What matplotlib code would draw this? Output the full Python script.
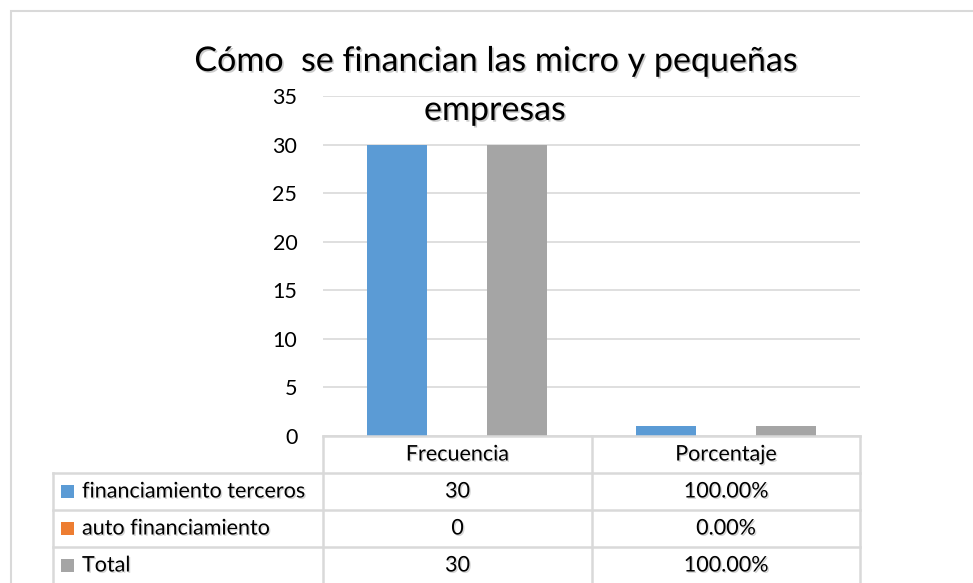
import matplotlib
matplotlib.use("Agg")
import matplotlib.pyplot as plt
import matplotlib.patheffects as pe
from matplotlib.patches import Rectangle
from matplotlib.lines import Line2D
import numpy as np

plt.rcParams['font.family'] = ['Lato', 'DejaVu Sans']

title_lines = ["Cómo  se financian las micro y pequeñas", "empresas"]
categories = ["Frecuencia", "Porcentaje"]
series_names = ["financiamiento terceros", "auto financiamiento", "Total"]
series_values = {
    "financiamiento terceros": [30, 1.0],
    "auto financiamiento": [0, 0.0],
    "Total": [30, 1.0],
}
table_text = {
    "financiamiento terceros": ["30", "100.00%"],
    "auto financiamiento": ["0", "0.00%"],
    "Total": ["30", "100.00%"],
}
colors = ["#5b9bd5", "#ed7d31", "#a5a5a5"]
yticks = [0, 5, 10, 15, 20, 25, 30, 35]

W, H = 973, 583
fig = plt.figure(figsize=(W / 100, H / 100), dpi=100)

def fx(px):
    return px / W

def fy(py):
    return 1 - py / H

grid_col = "#d9d9d9"

# outer chart border
fig.add_artist(Rectangle((fx(11), fy(600)), fx(1000) - fx(11), fy(11) - fy(600),
                         transform=fig.transFigure, fill=False, edgecolor=grid_col, lw=1.5))

# plot area
x_left, x_right, y_top, y_bot = 323, 860, 96, 436
ax = fig.add_axes([fx(x_left), fy(y_bot), fx(x_right) - fx(x_left), fy(y_top) - fy(y_bot)])
ax.set_ylim(0, 35)
ax.set_xlim(-0.5, len(categories) - 0.5)
ax.set_yticks(yticks)
ax.set_yticklabels([str(t) for t in yticks], fontsize=15.5)
ax.tick_params(axis='y', length=0, pad=18.5)
ax.set_xticks([])
for s in ax.spines.values():
    s.set_visible(False)
ax.yaxis.grid(True, color=grid_col, lw=1.2)
ax.set_axisbelow(True)

bw = 0.223
x = np.arange(len(categories))
for i, name in enumerate(series_names):
    ax.bar(x + (i - 1) * bw, series_values[name], width=bw, color=colors[i], zorder=3)

shadow = [pe.SimplePatchShadow(offset=(1.2, -1.2), shadow_rgbFace="#9a9a9a", alpha=0.5), pe.Normal()]

fig.text(fx(496), fy(61), title_lines[0], ha='center', va='center', fontsize=24.5,
         color="#000000", path_effects=shadow)
fig.text(fx(495), fy(110), title_lines[1], ha='center', va='center', fontsize=24.5,
         color="#000000", path_effects=shadow)

# data table
col_edges = [53, 323, 592, 860]
row_edges = [436, 473, 510, 547, 584]
lw = 1.8

def hline(y, x0, x1):
    fig.add_artist(Line2D([fx(x0), fx(x1)], [fy(y), fy(y)], transform=fig.transFigure,
                          color=grid_col, lw=lw))

def vline(xp, y0, y1):
    fig.add_artist(Line2D([fx(xp), fx(xp)], [fy(y0), fy(y1)], transform=fig.transFigure,
                          color=grid_col, lw=lw))

hline(row_edges[0], col_edges[1], col_edges[3])
for r in row_edges[1:]:
    hline(r, col_edges[0], col_edges[3])
vline(col_edges[0], row_edges[1], row_edges[-1])
for c in col_edges[1:]:
    vline(c, row_edges[0], row_edges[-1])

tshadow = [pe.SimplePatchShadow(offset=(1, -1), shadow_rgbFace="#9a9a9a", alpha=0.4), pe.Normal()]

for j, cat in enumerate(categories):
    cx = (col_edges[j + 1] + col_edges[j + 2]) / 2
    cy = (row_edges[0] + row_edges[1]) / 2
    fig.text(fx(cx), fy(cy), cat, ha='center', va='center', fontsize=15.5, path_effects=tshadow)

for i, name in enumerate(series_names):
    cy = (row_edges[i + 1] + row_edges[i + 2]) / 2
    fig.add_artist(Rectangle((fx(61), fy(cy + 6.5)), fx(13), fy(0) - fy(13),
                             transform=fig.transFigure, facecolor=colors[i], edgecolor='none'))
    fig.text(fx(82), fy(cy), name, ha='left', va='center', fontsize=15.5, path_effects=tshadow)
    for j in range(len(categories)):
        cx = (col_edges[j + 1] + col_edges[j + 2]) / 2
        fig.text(fx(cx), fy(cy), table_text[name][j], ha='center', va='center', fontsize=15.5,
                 path_effects=tshadow)

fig.savefig("out.png", dpi=100, facecolor="white")
